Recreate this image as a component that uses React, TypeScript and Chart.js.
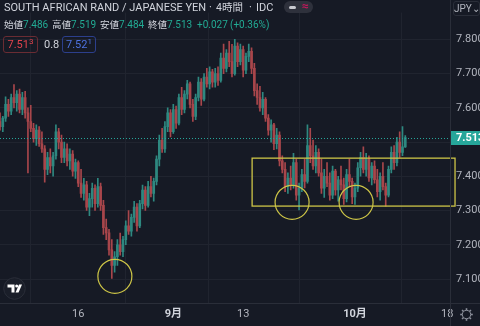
import React, { useEffect, useRef } from "react";
import { Chart, registerables } from "chart.js";

Chart.register(...registerables);

// ---- Data (8h candles) ----
const opens = [
  7.560, 7.545, 7.570, 7.610, 7.590, 7.630, 7.615, 7.640, 7.595, 7.630,
  7.585, 7.560, 7.540, 7.510, 7.535, 7.495, 7.480, 7.420, 7.455, 7.430,
  7.460, 7.530, 7.500, 7.455, 7.480, 7.445, 7.465, 7.415, 7.440, 7.380,
  7.350, 7.375, 7.310, 7.335, 7.365, 7.320, 7.370, 7.315, 7.250, 7.235,
  7.185, 7.140, 7.165, 7.200, 7.180, 7.215, 7.255, 7.240, 7.280, 7.310,
  7.255, 7.320, 7.360, 7.315, 7.370, 7.350, 7.385, 7.450, 7.505, 7.480,
  7.545, 7.585, 7.530, 7.595, 7.555, 7.630, 7.595, 7.640, 7.670, 7.610,
  7.575, 7.630, 7.675, 7.625, 7.690, 7.670, 7.705, 7.675, 7.700, 7.680,
  7.745, 7.715, 7.760, 7.735, 7.700, 7.780, 7.735, 7.770, 7.710, 7.750,
  7.765, 7.715, 7.650, 7.630, 7.600, 7.625, 7.570, 7.535, 7.550, 7.495,
  7.520, 7.445, 7.420, 7.370, 7.395, 7.375, 7.440, 7.345, 7.365, 7.405,
  7.385, 7.490, 7.460, 7.430, 7.470, 7.410, 7.365, 7.400, 7.380, 7.345,
  7.415, 7.360, 7.390, 7.375, 7.335, 7.405, 7.385, 7.340, 7.365, 7.425,
  7.455, 7.420, 7.450, 7.395, 7.430, 7.390, 7.355, 7.400, 7.370, 7.345,
  7.420, 7.470, 7.440, 7.500, 7.470, 7.486,
];
const highs = [
  7.585, 7.575, 7.632, 7.625, 7.640, 7.668, 7.650, 7.655, 7.645, 7.648,
  7.600, 7.607, 7.555, 7.550, 7.545, 7.530, 7.490, 7.470, 7.480, 7.470,
  7.550, 7.540, 7.520, 7.500, 7.495, 7.480, 7.475, 7.450, 7.445, 7.420,
  7.394, 7.385, 7.350, 7.380, 7.375, 7.394, 7.380, 7.330, 7.275, 7.245,
  7.215, 7.180, 7.215, 7.234, 7.225, 7.270, 7.300, 7.290, 7.327, 7.320,
  7.330, 7.374, 7.370, 7.385, 7.400, 7.395, 7.460, 7.520, 7.540, 7.560,
  7.600, 7.595, 7.610, 7.605, 7.640, 7.660, 7.650, 7.680, 7.675, 7.625,
  7.640, 7.690, 7.685, 7.700, 7.715, 7.720, 7.712, 7.715, 7.720, 7.760,
  7.786, 7.770, 7.794, 7.785, 7.800, 7.790, 7.786, 7.780, 7.760, 7.786,
  7.775, 7.730, 7.670, 7.663, 7.645, 7.630, 7.580, 7.565, 7.555, 7.540,
  7.530, 7.460, 7.440, 7.410, 7.430, 7.467, 7.450, 7.380, 7.420, 7.450,
  7.550, 7.540, 7.506, 7.490, 7.480, 7.450, 7.420, 7.440, 7.410, 7.430,
  7.420, 7.400, 7.430, 7.395, 7.420, 7.450, 7.395, 7.380, 7.440, 7.470,
  7.486, 7.467, 7.460, 7.440, 7.445, 7.420, 7.410, 7.440, 7.380, 7.430,
  7.486, 7.490, 7.514, 7.530, 7.545, 7.519,
];
const lows = [
  7.535, 7.530, 7.560, 7.575, 7.580, 7.600, 7.590, 7.585, 7.580, 7.570,
  7.410, 7.530, 7.500, 7.490, 7.487, 7.470, 7.383, 7.405, 7.410, 7.400,
  7.450, 7.480, 7.440, 7.440, 7.430, 7.420, 7.400, 7.394, 7.370, 7.338,
  7.330, 7.300, 7.285, 7.310, 7.300, 7.310, 7.300, 7.230, 7.215, 7.170,
  7.102, 7.120, 7.140, 7.170, 7.165, 7.200, 7.230, 7.225, 7.265, 7.240,
  7.250, 7.305, 7.300, 7.310, 7.340, 7.327, 7.375, 7.430, 7.470, 7.470,
  7.530, 7.515, 7.525, 7.540, 7.550, 7.580, 7.585, 7.626, 7.600, 7.560,
  7.565, 7.620, 7.607, 7.620, 7.660, 7.655, 7.660, 7.660, 7.665, 7.675,
  7.700, 7.705, 7.720, 7.690, 7.695, 7.720, 7.725, 7.690, 7.700, 7.735,
  7.700, 7.635, 7.610, 7.590, 7.580, 7.560, 7.520, 7.500, 7.478, 7.480,
  7.430, 7.410, 7.355, 7.350, 7.360, 7.365, 7.330, 7.302, 7.355, 7.366,
  7.380, 7.440, 7.420, 7.410, 7.400, 7.350, 7.338, 7.370, 7.330, 7.335,
  7.345, 7.327, 7.360, 7.318, 7.325, 7.370, 7.320, 7.318, 7.355, 7.400,
  7.410, 7.400, 7.385, 7.375, 7.380, 7.340, 7.330, 7.360, 7.313, 7.340,
  7.410, 7.420, 7.430, 7.455, 7.460, 7.484,
];
const closes = [
  7.545, 7.570, 7.610, 7.590, 7.630, 7.615, 7.640, 7.595, 7.630, 7.585,
  7.560, 7.540, 7.510, 7.535, 7.495, 7.480, 7.420, 7.455, 7.430, 7.460,
  7.530, 7.500, 7.455, 7.480, 7.445, 7.465, 7.415, 7.440, 7.380, 7.350,
  7.375, 7.310, 7.335, 7.365, 7.320, 7.370, 7.315, 7.250, 7.235, 7.185,
  7.140, 7.165, 7.200, 7.180, 7.215, 7.255, 7.240, 7.280, 7.310, 7.255,
  7.320, 7.360, 7.315, 7.370, 7.350, 7.385, 7.450, 7.505, 7.480, 7.545,
  7.585, 7.530, 7.595, 7.555, 7.630, 7.595, 7.640, 7.670, 7.610, 7.575,
  7.630, 7.675, 7.625, 7.690, 7.670, 7.705, 7.675, 7.700, 7.680, 7.745,
  7.715, 7.760, 7.735, 7.700, 7.780, 7.735, 7.770, 7.710, 7.750, 7.765,
  7.715, 7.650, 7.630, 7.600, 7.625, 7.570, 7.535, 7.550, 7.495, 7.520,
  7.445, 7.420, 7.370, 7.395, 7.375, 7.440, 7.345, 7.365, 7.405, 7.385,
  7.490, 7.460, 7.430, 7.470, 7.410, 7.365, 7.400, 7.380, 7.345, 7.415,
  7.360, 7.390, 7.375, 7.335, 7.405, 7.385, 7.340, 7.365, 7.425, 7.455,
  7.420, 7.450, 7.395, 7.430, 7.390, 7.355, 7.400, 7.370, 7.345, 7.420,
  7.470, 7.440, 7.500, 7.470, 7.486, 7.513,
];

const categoryCount = 162; // candle slots incl. empty space to the right
const xTickLabels = ["16", "9月", "13", "10月", "18"];
const xTickIndex = [28, 62, 87, 127, 160];
const yTickValues = [7.1, 7.2, 7.3, 7.4, 7.5, 7.6, 7.7, 7.8];
const yMin = 7.03;
const yMax = 7.878;

// annotations (in data units)
const zoneIndex = [90.2, 162.8];
const zonePrice = [7.453, 7.313];
const circleIndex = [41.1, 104.5, 127.4];
const circlePrice = [7.108, 7.324, 7.324];

// ---- Styles ----
const BG = "#161a25";
const UP = "#2e8880";
const DOWN = "#a8464b";
const GRID = "#20242f";
const SEP = "#2a2e39";
const TXT = "#b2b5be";
const YELLOW = "#cdc547";
const FONT = "Roboto, 'Noto Sans CJK JP', sans-serif";

const categories = Array.from({ length: categoryCount }, (_, i) => {
  const k = xTickIndex.indexOf(i);
  return k >= 0 ? xTickLabels[k] : "";
});

const overlay = {
  id: "overlay",
  afterDatasetsDraw(chart: any) {
    const { ctx, chartArea, scales } = chart;
    const x = scales.x;
    const y = scales.y;
    ctx.save();
    const last = closes[closes.length - 1];
    const py = Math.round(y.getPixelForValue(last)) + 0.5;
    ctx.strokeStyle = "#26a69a";
    ctx.lineWidth = 1;
    ctx.setLineDash([1, 2]);
    ctx.beginPath();
    ctx.moveTo(chartArea.left, py);
    ctx.lineTo(chartArea.right, py);
    ctx.stroke();
    ctx.setLineDash([]);
    ctx.strokeStyle = YELLOW;
    ctx.lineWidth = 1.3;
    const x0 = x.getPixelForValue(zoneIndex[0]);
    const x1 = x.getPixelForValue(zoneIndex[1]);
    const y0 = y.getPixelForValue(zonePrice[0]);
    const y1 = y.getPixelForValue(zonePrice[1]);
    ctx.strokeRect(x0, y0, x1 - x0, y1 - y0);
    ctx.lineWidth = 1.2;
    circleIndex.forEach((ci, k) => {
      ctx.beginPath();
      ctx.arc(x.getPixelForValue(ci), y.getPixelForValue(circlePrice[k]), 17, 0, Math.PI * 2);
      ctx.stroke();
    });
    ctx.restore();
  },
  afterDraw(chart: any) {
    const { ctx, chartArea, scales } = chart;
    const y = scales.y;
    ctx.save();
    ctx.strokeStyle = SEP;
    ctx.lineWidth = 1;
    ctx.beginPath();
    ctx.moveTo(chartArea.right + 0.5, 0);
    ctx.lineTo(chartArea.right + 0.5, chart.height);
    ctx.moveTo(0, chartArea.bottom + 0.5);
    ctx.lineTo(chart.width, chartArea.bottom + 0.5);
    ctx.stroke();
    const last = closes[closes.length - 1];
    const py = y.getPixelForValue(last);
    ctx.fillStyle = "#26a69a";
    ctx.fillRect(chartArea.right + 1, Math.round(py) - 7, chart.width - chartArea.right - 1, 14);
    ctx.fillStyle = "#ffffff";
    ctx.font = `bold 11px ${FONT}`;
    ctx.textAlign = "left";
    ctx.textBaseline = "middle";
    ctx.fillText(last.toFixed(3), chartArea.right + 6, Math.round(py) + 0.5);
    ctx.restore();
  },
};

export default function App() {
  const ref = useRef<HTMLCanvasElement | null>(null);

  useEffect(() => {
    if (!ref.current) return;
    const colors = closes.map((c, i) => (c >= opens[i] ? UP : DOWN));
    const chart = new Chart(ref.current, {
      type: "bar",
      data: {
        labels: categories,
        datasets: [
          {
            label: "wick",
            data: lows.map((l, i) => [l, highs[i]]) as any,
            backgroundColor: colors,
            barThickness: 1,
            grouped: false,
            order: 2,
          } as any,
          {
            label: "body",
            data: opens.map((o, i) => [o, closes[i]]) as any,
            backgroundColor: colors,
            barThickness: 2,
            minBarLength: 1,
            grouped: false,
            order: 1,
          } as any,
        ],
      },
      options: {
        responsive: false,
        maintainAspectRatio: false,
        animation: false,
        events: [],
        layout: { padding: 0 },
        plugins: { legend: { display: false }, tooltip: { enabled: false }, title: { display: false } },
        scales: {
          x: {
            type: "category",
            offset: false,
            afterBuildTicks: (axis: any) => {
              axis.ticks = xTickIndex.map((v) => ({ value: v }));
            },
            afterFit: (axis: any) => {
              axis.height = 23;
            },
            grid: { color: GRID, drawTicks: false },
            border: { display: false },
            ticks: {
              autoSkip: false,
              maxRotation: 0,
              padding: 5,
              color: (ctx: any) => (/月/.test(xTickLabels[ctx.index] || "") ? "#d1d4dc" : TXT),
              font: (ctx: any) => ({
                family: FONT,
                size: 11,
                weight: /月/.test(xTickLabels[ctx.index] || "") ? "bold" : "normal",
              }),
            },
          },
          y: {
            type: "linear",
            position: "right",
            min: yMin,
            max: yMax,
            afterBuildTicks: (axis: any) => {
              axis.ticks = yTickValues.map((v) => ({ value: v }));
            },
            afterFit: (axis: any) => {
              axis.width = 30;
            },
            grid: { color: GRID, drawTicks: false },
            border: { display: false },
            ticks: {
              padding: 6,
              color: TXT,
              font: { family: FONT, size: 11 },
              callback: (v: any) => Number(v).toFixed(3),
            },
          },
        },
      },
      plugins: [overlay],
    });
    return () => chart.destroy();
  }, []);

  const abs = (left: number, top: number, extra: any = {}) => ({
    position: "absolute" as const,
    left,
    top,
    whiteSpace: "nowrap" as const,
    ...extra,
  });
  const lbl = { color: "#d1d4dc", fontSize: 9.5 };
  const val = { color: "#22ab94", fontSize: 10 };
  const title = { color: "#d1d4dc", fontSize: 11, lineHeight: "14px" };

  return (
    <div
      style={{
        position: "fixed",
        left: 0,
        top: 0,
        width: 480,
        height: 326,
        background: BG,
        overflow: "hidden",
        fontFamily: FONT,
        fontSize: 11,
        lineHeight: "13px",
      }}
    >
      <canvas ref={ref} width={480} height={326} style={{ position: "absolute", left: 0, top: 0 }} />
      {/* title row */}
      <div style={abs(4, 1, title)}>SOUTH AFRICAN RAND / JAPANESE YEN</div>
      <div style={abs(209, 1, title)}>·</div>
      <div style={abs(216, 1, { ...title, fontSize: 10.5 })}>4時間</div>
      <div style={abs(249, 1, title)}>·</div>
      <div style={abs(256, 1, title)}>IDC</div>
      <div style={abs(284, 1, { width: 29, height: 12, borderRadius: 6, background: "#2e313c" })}>
        <div style={abs(5, 5, { width: 7, height: 3, borderRadius: 1.5, background: "#c8cad0" })} />
        <div style={abs(18, -1, { color: "#c2185b", fontSize: 12, fontWeight: "bold" })}>≈</div>
      </div>
      {/* OHLC row */}
      <div style={abs(4, 18)}>
        <span style={lbl}>始値</span>
        <span style={val}>7.486</span>
      </div>
      <div style={abs(52, 18)}>
        <span style={lbl}>高値</span>
        <span style={val}>7.519</span>
      </div>
      <div style={abs(100, 18)}>
        <span style={lbl}>安値</span>
        <span style={val}>7.484</span>
      </div>
      <div style={abs(148, 18)}>
        <span style={lbl}>終値</span>
        <span style={val}>7.513</span>
      </div>
      <div style={abs(197, 18, val)}>+0.027</div>
      <div style={abs(230, 18, val)}>(+0.36%)</div>
      {/* bid / ask row */}
      <div
        style={abs(3, 36, {
          width: 33,
          height: 15,
          border: "1px solid #6a2c33",
          borderRadius: 3,
          color: "#e0434d",
          textAlign: "center",
          lineHeight: "15px",
        })}
      >
        7.51<sup style={{ fontSize: 8, verticalAlign: "top", lineHeight: "10px" }}>3</sup>
      </div>
      <div style={abs(44, 38, { color: "#d1d4dc" })}>0.8</div>
      <div
        style={abs(62, 36, {
          width: 32,
          height: 15,
          border: "1px solid #2c3f8c",
          borderRadius: 3,
          color: "#4d72e0",
          textAlign: "center",
          lineHeight: "15px",
        })}
      >
        7.52<sup style={{ fontSize: 8, verticalAlign: "top", lineHeight: "10px" }}>1</sup>
      </div>
      {/* currency */}
      <div
        style={abs(453, 1, {
          width: 25,
          height: 13,
          border: "1px solid #2a2e39",
          borderRadius: 3,
          color: "#b2b5be",
          fontSize: 10,
          lineHeight: "13px",
          textAlign: "center",
        })}
      >
        JPY⌄
      </div>
      {/* logo */}
      <svg style={abs(3, 277)} width={23} height={23} viewBox="-11.5 -11.5 23 23">
        <circle cx={0} cy={0} r={10.8} fill="#1a1e29" stroke="#2a2e39" strokeWidth={1} />
        <path d="M-7,-4 H0 V4 H-3 V-1 H-7 Z" fill="#ffffff" />
        <circle cx={2.2} cy={-2.6} r={1.5} fill="#ffffff" />
        <path d="M1,4 L4.5,-4 L7.5,-4 L4,4 Z" fill="#ffffff" />
      </svg>
      {/* settings gear */}
      <svg style={abs(459, 307)} width={15} height={15} viewBox="-7.5 -7.5 15 15">
        <circle cx={0} cy={0} r={4.2} fill="none" stroke="#8a8e99" strokeWidth={1} />
        {[0, 45, 90, 135, 180, 225, 270, 315].map((a) => (
          <line
            key={a}
            x1={0}
            y1={-4.2}
            x2={0}
            y2={-6.3}
            stroke="#8a8e99"
            strokeWidth={1.6}
            transform={`rotate(${a})`}
          />
        ))}
      </svg>
    </div>
  );
}
